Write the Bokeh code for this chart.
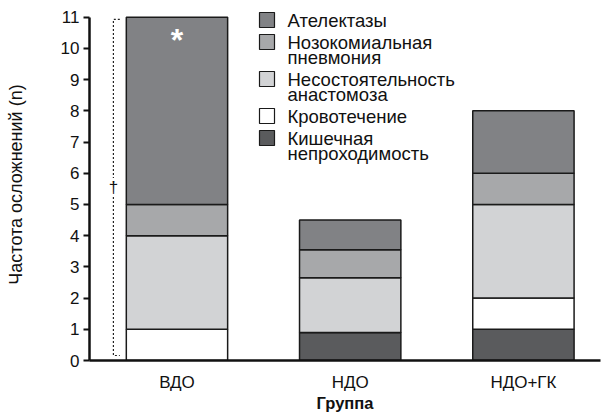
from bokeh.plotting import figure
from bokeh.models import (ColumnDataSource, Range1d, FixedTicker, Label, BoxAnnotation)
from bokeh.embed import file_html
from bokeh.resources import INLINE

# Groups and complication counts (stacked bottom -> top)
groups = ["ВДО", "НДО", "НДО+ГК"]
obstruction = [0.0, 0.9, 1.0]      # Кишечная непроходимость
bleeding = [1.0, 0.0, 1.0]         # Кровотечение
leak = [3.0, 1.75, 3.0]            # Несостоятельность анастомоза
pneumonia = [1.0, 0.9, 1.0]        # Нозокомиальная пневмония
atelectasis = [6.0, 0.95, 2.0]     # Ателектазы

series = ["obstruction", "bleeding", "leak", "pneumonia", "atelectasis"]
labels = {
    "atelectasis": ["Ателектазы"],
    "pneumonia": ["Нозокомиальная", "пневмония"],
    "leak": ["Несостоятельность", "анастомоза"],
    "bleeding": ["Кровотечение"],
    "obstruction": ["Кишечная", "непроходимость"],
}
colors = ["#5a5b5d", "#ffffff", "#d2d3d5", "#a7a8aa", "#818285"]
y_ticks = list(range(0, 12))

FONT = "Liberation Sans"
INK = "#111111"

X0, X1 = -0.505, 2.445
Y0, Y1 = 0, 11.28
FRAME_L, FRAME_R, FRAME_T, FRAME_B = 89, 600, 8, 360

src = ColumnDataSource(dict(
    x=list(range(len(groups))),
    obstruction=obstruction, bleeding=bleeding, leak=leak,
    pneumonia=pneumonia, atelectasis=atelectasis,
))

p = figure(width=604, height=420, output_backend="svg", toolbar_location=None,
           x_range=Range1d(X0, X1), y_range=Range1d(Y0, Y1),
           min_border_left=FRAME_L, min_border_right=604 - FRAME_R,
           min_border_top=FRAME_T, min_border_bottom=420 - FRAME_B)
p.outline_line_color = None
p.grid.visible = False
p.background_fill_color = "white"

p.vbar_stack(series, x="x", width=0.585, source=src, fill_color=colors,
             line_color="#1a1a1a", line_width=1.5)

# Axes
p.yaxis.ticker = FixedTicker(ticks=y_ticks)
p.yaxis.bounds = (0, 11)
p.yaxis.axis_line_width = 2.5
p.yaxis.axis_line_color = INK
p.yaxis.major_tick_line_width = 2
p.yaxis.major_tick_line_color = INK
p.yaxis.major_tick_in = 0
p.yaxis.major_tick_out = 6
p.yaxis.major_label_standoff = 4
p.yaxis.minor_tick_line_color = None
p.yaxis.major_label_text_font = FONT
p.yaxis.major_label_text_font_size = "17px"
p.yaxis.major_label_text_color = INK
p.yaxis.axis_label = "Частота осложнений (n)"
p.yaxis.axis_label_text_font = FONT
p.yaxis.axis_label_text_font_style = "normal"
p.yaxis.axis_label_text_font_size = "18px"
p.yaxis.axis_label_text_color = INK
p.yaxis.axis_label_standoff = 32

p.xaxis.ticker = FixedTicker(ticks=list(range(len(groups))))
p.xaxis.major_label_overrides = {i: g for i, g in enumerate(groups)}
p.xaxis.axis_line_width = 2.5
p.xaxis.axis_line_color = INK
p.xaxis.major_tick_line_color = None
p.xaxis.minor_tick_line_color = None
p.xaxis.major_label_text_font = FONT
p.xaxis.major_label_text_font_size = "17px"
p.xaxis.major_label_text_color = INK
p.xaxis.major_label_standoff = 6
p.xaxis.axis_label = "Группа"
p.xaxis.axis_label_text_font = FONT
p.xaxis.axis_label_text_font_style = "bold"
p.xaxis.axis_label_text_font_size = "16.5px"
p.xaxis.axis_label_text_color = INK
p.xaxis.axis_label_standoff = -1


def sx(px):
    """Canvas pixel column -> data x."""
    return X0 + (px - FRAME_L) * (X1 - X0) / (FRAME_R - FRAME_L)


def sy(py):
    """Canvas pixel row -> data y."""
    return Y0 + (FRAME_B - py) * (Y1 - Y0) / (FRAME_B - FRAME_T)


# Dotted bracket spanning the ВДО bar, with a dagger marker
bx, btick = -0.367, -0.33
b_lo, b_hi = 0.16, 10.93
p.line([btick, bx, bx, btick], [b_hi, b_hi, b_lo, b_lo], line_dash="2 2",
       line_color="#222222", line_width=1.2)
p.add_layout(Label(x=bx, y=(b_lo + b_hi) / 2, text="†", text_font=FONT,
                   text_font_size="17px", text_align="center",
                   text_baseline="middle", text_color=INK,
                   background_fill_color="white"))
vdo_total = sum(v[0] for v in [obstruction, bleeding, leak, pneumonia, atelectasis])
p.add_layout(Label(x=0, y=vdo_total - 0.72, text="*", text_font=FONT,
                   text_font_style="bold", text_font_size="32px",
                   text_align="center", text_baseline="middle",
                   text_color="white"))

# Legend: swatch plus one or two text lines per series, top of stack first
key_left, key_size, text_left = 259, 15, 287
line_step, item_gap = 15, 22
row = 19.5
for s, c in list(zip(series, colors))[::-1]:
    p.add_layout(BoxAnnotation(left=sx(key_left), right=sx(key_left + key_size),
                               top=sy(row - key_size / 2), bottom=sy(row + key_size / 2),
                               fill_color=c, fill_alpha=1.0, line_color="#1a1a1a",
                               line_width=1.2, line_alpha=1.0))
    for i, line in enumerate(labels[s]):
        p.add_layout(Label(x=sx(text_left), y=sy(row + i * line_step), text=line,
                           text_font=FONT, text_font_size="18.5px",
                           text_color=INK, text_align="left",
                           text_baseline="middle"))
    row += (len(labels[s]) - 1) * line_step + item_gap

open("out.html", "w").write(file_html(p, INLINE))
